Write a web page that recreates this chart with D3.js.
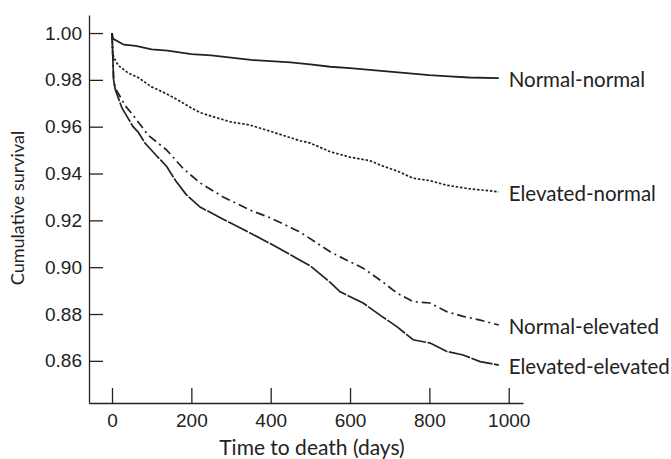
<!DOCTYPE html>
<html>
<head>
<meta charset="utf-8">
<script src="https://cdn.jsdelivr.net/npm/d3@7"></script>
<style>
  html, body { margin: 0; padding: 0; background: #fff; }
  svg { display: block; font-family: Lato, "Open Sans", sans-serif; }
</style>
</head>
<body>
<svg id="chart"></svg>
<script>
// survival, [day, cumulative survival]
const normalNormal = [
  [0, 1.0], [3, 0.9975], [30, 0.995], [60, 0.9945], [100, 0.993], [140, 0.9925],
  [200, 0.991], [250, 0.9905], [300, 0.9895], [350, 0.9885], [400, 0.988],
  [450, 0.9875], [500, 0.9866], [550, 0.9856], [600, 0.985], [650, 0.9843],
  [700, 0.9835], [750, 0.9828], [800, 0.982], [850, 0.9815], [900, 0.981], [975, 0.9807]
];
const elevatedNormal = [
  [0, 1.0], [2, 0.991], [8, 0.9885], [15, 0.9863], [40, 0.983], [66, 0.981],
  [100, 0.977], [138, 0.974], [170, 0.971], [200, 0.968], [222, 0.966], [250, 0.9645],
  [300, 0.962], [348, 0.9607], [400, 0.958], [474, 0.954], [500, 0.953], [550, 0.9493],
  [600, 0.947], [650, 0.9455], [676, 0.9436], [720, 0.941], [759, 0.938], [800, 0.937],
  [844, 0.935], [900, 0.9335], [975, 0.9322]
];
const normalElevated = [
  [0, 1.0], [4, 0.98], [8, 0.9765], [20, 0.973], [33, 0.969], [53, 0.965], [66, 0.962],
  [91, 0.9564], [138, 0.95], [180, 0.942], [222, 0.936], [280, 0.93], [348, 0.9244],
  [400, 0.921], [474, 0.915], [550, 0.9066], [575, 0.9044], [633, 0.8996], [680, 0.894],
  [718, 0.889], [759, 0.8853], [802, 0.8847], [844, 0.881], [885, 0.879], [928, 0.8774],
  [975, 0.8753]
];
const elevatedElevated = [
  [0, 1.0], [4, 0.98], [8, 0.976], [25, 0.968], [53, 0.96], [66, 0.9577], [83, 0.953],
  [110, 0.948], [138, 0.943], [160, 0.937], [187, 0.931], [222, 0.9257], [280, 0.9205],
  [348, 0.9146], [400, 0.91], [474, 0.903], [500, 0.9005], [550, 0.8935], [575, 0.8895],
  [633, 0.8847], [680, 0.879], [718, 0.8746], [759, 0.869], [802, 0.8676], [844, 0.864],
  [885, 0.8625], [928, 0.8597], [975, 0.8582]
];
const seriesNames = ['Normal-normal', 'Elevated-normal', 'Normal-elevated', 'Elevated-elevated'];
const xTicks = [0, 200, 400, 600, 800, 1000];
const yTicks = [0.86, 0.88, 0.90, 0.92, 0.94, 0.96, 0.98, 1.00];

const width = 671, height = 459;
const svg = d3.select('#chart').attr('width', width).attr('height', height);

const x = d3.scaleLinear().domain([-58, 1036]).range([89, 523]);
const y = d3.scaleLinear().domain([0.842, 1.0077]).range([403, 15]);

const ink = '#222';

// y axis, ticks point inward
const yAxis = svg.append('g')
  .attr('transform', `translate(${x.range()[0]},0)`)
  .call(d3.axisLeft(y).tickValues(yTicks).tickFormat(d3.format('.2f'))
    .tickSizeInner(-14).tickSizeOuter(0).tickPadding(7));

// x axis
const xAxis = svg.append('g')
  .attr('transform', `translate(0,${y.range()[0]})`)
  .call(d3.axisBottom(x).tickValues(xTicks).tickFormat(d3.format('d'))
    .tickSizeInner(-15).tickSizeOuter(0).tickPadding(11));

[yAxis, xAxis].forEach(g => {
  g.select('.domain').attr('stroke', ink).attr('stroke-width', 1.3);
  g.selectAll('.tick line').attr('stroke', ink).attr('stroke-width', 1.3);
  g.selectAll('.tick text').attr('fill', ink).style('font-size', '19px');
});

svg.append('text')
  .attr('x', 312).attr('y', 455)
  .attr('text-anchor', 'middle')
  .attr('fill', ink)
  .style('font-size', '21px')
  .text('Time to death (days)');

svg.append('text')
  .attr('transform', 'translate(24,208) rotate(-90)')
  .attr('text-anchor', 'middle')
  .attr('fill', ink)
  .style('font-size', '18px')
  .text('Cumulative survival');

const line = d3.line()
  .x(d => x(d[0]))
  .y(d => y(d[1]));

const series = [
  { name: seriesNames[0], values: normalNormal, dash: null, w: 1.8 },
  { name: seriesNames[1], values: elevatedNormal, dash: '2.5,1.8', w: 1.7 },
  { name: seriesNames[2], values: normalElevated, dash: '9,4,2,4', w: 1.7 },
  { name: seriesNames[3], values: elevatedElevated, dash: '22,1.5', w: 1.7 }
];

svg.selectAll('path.series')
  .data(series)
  .enter().append('path')
  .attr('class', 'series')
  .attr('d', d => line(d.values))
  .attr('fill', 'none')
  .attr('stroke', ink)
  .attr('stroke-width', d => d.w)
  .attr('stroke-dasharray', d => d.dash);

svg.selectAll('text.label')
  .data(series)
  .enter().append('text')
  .attr('class', 'label')
  .attr('x', x(1000))
  .attr('y', d => y(d.values[d.values.length - 1][1]) + 2)
  .attr('dy', '0.35em')
  .attr('fill', ink)
  .style('font-size', '20.5px')
  .text(d => d.name);
</script>
</body>
</html>
